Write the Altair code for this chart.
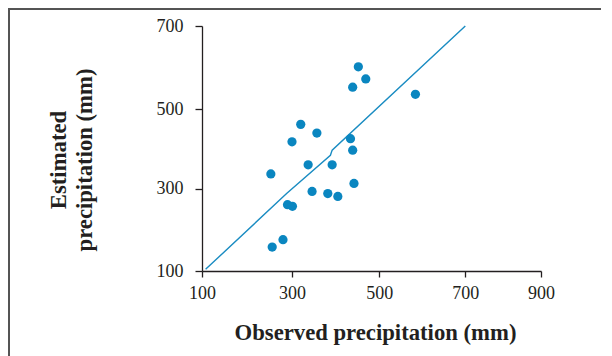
import altair as alt
import pandas as pd

# Observed vs estimated precipitation (mm)
observed = [452, 469, 439, 584, 320, 357, 300, 434, 439, 337, 392, 253, 442, 346, 382, 405, 290, 301, 280, 256]
estimated = [602, 573, 553, 536, 462, 440, 418, 426, 397, 360, 360, 337, 313, 293, 288, 281, 261, 257, 176, 158]

# fitted line (as drawn)
line_x = [108, 288, 388, 392, 700]
line_y = [104, 288, 384, 397, 700]

x_ticks = [100, 300, 500, 700, 900]
y_ticks = [100, 300, 500, 700]

pts = pd.DataFrame({"obs": observed, "est": estimated})
fit = pd.DataFrame({"obs": line_x, "est": line_y})

W, H = 339, 245
FONT = "Liberation Serif"
INK = "#231f20"

xscale = alt.Scale(domain=x_ticks, range=[0, 90, 177.3, 263.3, W], nice=False, zero=False)
yscale = alt.Scale(domain=y_ticks, range=[H, 162.6, 83.3, 0], nice=False, zero=False)

xaxis = alt.Axis(
    values=x_ticks, grid=False, title="Observed precipitation (mm)",
    titleFont=FONT, titleFontSize=22.7, titleFontWeight="bold", titleColor=INK,
    titleX=173, titleY=68, titleAlign="center", titleBaseline="alphabetic", titleAnchor="start",
    labelFont=FONT, labelFontSize=18, labelColor=INK, labelPadding=7, labelFlush=False,
    labelOverlap=False,
    tickSize=6, tickColor=INK, tickWidth=1.3, domainColor=INK, domainWidth=1.3,
)
yaxis = alt.Axis(
    values=y_ticks, grid=False, title=["Estimated", "precipitation (mm)"],
    titleFont=FONT, titleFontSize=22.7, titleFontWeight="bold", titleColor=INK,
    titleAngle=270, titleX=-137, titleY=133.5, titleAlign="center", titleBaseline="alphabetic",
    titleLineHeight=26, titleAnchor="start",
    labelFont=FONT, labelFontSize=18, labelColor=INK, labelPadding=12, labelFlush=False,
    labelOverlap=False,
    tickSize=7, tickColor=INK, tickWidth=1.3, domainColor=INK, domainWidth=1.3,
)

line = alt.Chart(fit).mark_line(color="#1a8cc2", strokeWidth=1.4).encode(
    x=alt.X("obs:Q", scale=xscale, axis=xaxis),
    y=alt.Y("est:Q", scale=yscale, axis=yaxis),
)
dots = alt.Chart(pts).mark_circle(color="#0a86c0", opacity=1, size=85).encode(
    x=alt.X("obs:Q", scale=xscale),
    y=alt.Y("est:Q", scale=yscale),
)

frame_top = alt.Chart(pts).mark_rule(color="#555555", strokeWidth=1.5).encode(
    x=alt.value(-194), x2=alt.value(W + 70), y=alt.value(-17.3)
)
frame_left = alt.Chart(pts).mark_rule(color="#555555", strokeWidth=1.5).encode(
    x=alt.value(-193.3), y=alt.value(-18), y2=alt.value(H + 90)
)

chart = alt.layer(frame_top, frame_left, line, dots).properties(
    width=W, height=H,
    autosize=alt.AutoSizeParams(type="none"),
    padding={"left": 194, "top": 18, "right": 60, "bottom": 85},
).configure_view(stroke=None)

chart.save("out.html", embed_options={"renderer": "svg", "actions": False})
